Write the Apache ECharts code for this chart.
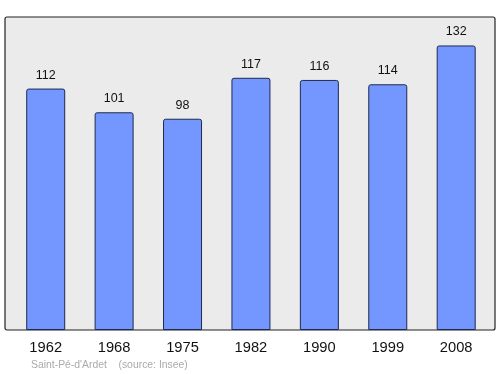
<!DOCTYPE html>
<html>
<head>
<meta charset="utf-8">
<script src="https://cdn.jsdelivr.net/npm/echarts@6/dist/echarts.min.js"></script>
<style>html,body{margin:0;padding:0;background:#fff}#c{width:500px;height:374px}</style>
</head>
<body>
<div id="c"></div>
<script>
const categories = ['1962','1968','1975','1982','1990','1999','2008'];
const values = [112,101,98,117,116,114,132];
const footer = "Saint-Pé-d'Ardet    (source: Insee)";

const chart = echarts.init(document.getElementById('c'), null, {renderer:'canvas'});
chart.setOption({
  animation:false,
  backgroundColor:'#ffffff',
  graphic:[
    {type:'rect', z:-10, shape:{x:5,y:17,width:490,height:313,r:2},
     style:{fill:'#ebebeb', stroke:'#222', lineWidth:1.2}},
    {type:'text', left:31, top:360, style:{text:footer, fill:'#aaaaaa', font:'10.4px "Liberation Sans", Arial, sans-serif'}}
  ],
  grid:{left:11.5, right:9.6, top:17, bottom:44, containLabel:false},
  xAxis:{type:'category', data:categories,
    axisLine:{show:false}, axisTick:{show:false},
    axisLabel:{margin:10, color:'#111', fontSize:14.7, fontFamily:'"Liberation Sans", Arial, sans-serif'}},
  yAxis:{type:'value', min:0, max:145.2, show:false, splitLine:{show:false}},
  series:[{type:'bar', data:values, barWidth:39,
    itemStyle:{color:'#7396ff', borderColor:'#1e2a50', borderWidth:1, borderRadius:[2,2,0,0]},
    label:{show:true, position:'top', distance:7, color:'#111', fontSize:12.5, fontFamily:'"Liberation Sans", Arial, sans-serif'}}]
});
</script>
</body>
</html>
